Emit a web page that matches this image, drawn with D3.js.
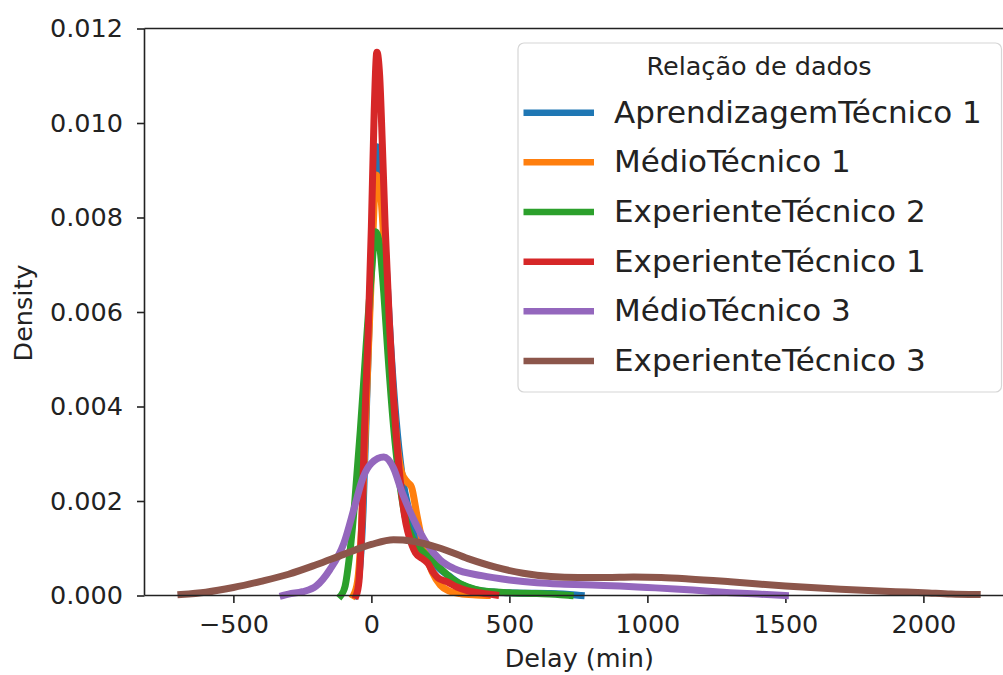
<!DOCTYPE html>
<html>
<head>
<meta charset="utf-8">
<script src="https://cdn.jsdelivr.net/npm/d3@7"></script>
<style>
  body { margin: 0; background: #fff; }
  text { font-family: "DejaVu Sans", sans-serif; fill: #222; }
</style>
</head>
<body>
<div id="canvas"></div>
<script>
// Curvas de densidade
const seriesNames = [
  "AprendizagemTécnico 1",
  "MédioTécnico 1",
  "ExperienteTécnico 2",
  "ExperienteTécnico 1",
  "MédioTécnico 3",
  "ExperienteTécnico 3"
];
const seriesColors = ["#1f77b4", "#ff7f0e", "#2ca02c", "#d62728", "#9467bd", "#8c564b"];

const delayBlue = [-60, -45, -30, -15, 0, 20, 35, 50, 70, 90, 110, 140, 170, 200, 240, 280, 320, 380, 450, 550, 650, 740, 760];
const densityBlue = [0, 0.0004, 0.0018, 0.0045, 0.0072, 0.0095, 0.0089, 0.0074, 0.0053, 0.0037, 0.0026, 0.0017, 0.0012, 0.0009, 0.0006, 0.00042, 0.00025, 0.00012, 0.00007, 0.00005, 0.00004, 0.00001, 0];

const delayOrange = [-65, -50, -35, -20, 0, 18, 35, 50, 70, 90, 110, 130, 145, 165, 190, 220, 250, 280, 320, 380, 420];
const densityOrange = [0, 0.0003, 0.0015, 0.0038, 0.0068, 0.0089, 0.0084, 0.0070, 0.0050, 0.0034, 0.0026, 0.0024, 0.0023, 0.0017, 0.0010, 0.0005, 0.00022, 0.0001, 0.00004, 0.00001, 0];

const delayGreen = [-110, -95, -80, -60, -40, -20, 0, 15, 30, 45, 60, 80, 100, 125, 150, 175, 200, 230, 260, 300, 350, 400, 500, 600, 700, 720];
const densityGreen = [0, 0.0002, 0.0008, 0.002, 0.0035, 0.0052, 0.0068, 0.0077, 0.0074, 0.0064, 0.0051, 0.0036, 0.0025, 0.0016, 0.0012, 0.0010, 0.00085, 0.0007, 0.00052, 0.00032, 0.00018, 0.0001, 0.00006, 0.00004, 0.00001, 0];

const delayRed = [-55, -45, -35, -25, -12, 0, 10, 20, 30, 40, 50, 65, 80, 100, 120, 148, 160, 185, 205, 225, 240, 275, 310, 350, 400, 450];
const densityRed = [0, 0.0003, 0.0015, 0.0035, 0.0055, 0.0078, 0.0102, 0.0115, 0.0110, 0.0095, 0.0078, 0.0058, 0.0042, 0.0027, 0.0017, 0.00105, 0.0009, 0.00078, 0.00068, 0.00048, 0.00038, 0.00029, 0.00018, 0.0001, 0.00005, 0.00001];

const delayPurple = [-320, -300, -250, -200, -150, -100, -60, -30, 0, 45, 80, 110, 150, 200, 250, 300, 400, 500, 600, 700, 800, 900, 1000, 1100, 1200, 1300, 1400, 1500];
const densityPurple = [0, 0.00003, 0.00008, 0.0002, 0.00055, 0.0011, 0.0019, 0.0025, 0.0028, 0.00293, 0.0027, 0.0022, 0.00165, 0.0011, 0.00075, 0.00057, 0.00042, 0.00033, 0.00027, 0.00024, 0.00022, 0.0002, 0.00017, 0.00014, 0.0001, 0.00006, 0.00003, 0];

const delayBrown = [-690, -600, -500, -400, -300, -200, -100, 0, 80, 150, 250, 350, 450, 550, 650, 750, 850, 950, 1050, 1150, 1300, 1500, 1700, 1900, 2000, 2100, 2195];
const densityBrown = [0.00002, 0.00007, 0.00017, 0.0003, 0.00045, 0.00065, 0.00087, 0.00108, 0.00118, 0.00115, 0.0010, 0.00078, 0.0006, 0.00047, 0.0004, 0.00038, 0.00038, 0.00039, 0.00038, 0.00035, 0.00029, 0.0002, 0.00013, 0.00008, 0.00006, 0.00003, 0.00002];

const xTicks = [-500, 0, 500, 1000, 1500, 2000];
const yTicks = [0, 0.002, 0.004, 0.006, 0.008, 0.010, 0.012];

const allDelays = [delayBlue, delayOrange, delayGreen, delayRed, delayPurple, delayBrown];
const allDensities = [densityBlue, densityOrange, densityGreen, densityRed, densityPurple, densityBrown];

const series = seriesNames.map((name, i) => ({
  name: name,
  color: seriesColors[i],
  points: allDelays[i].map((v, j) => ({ x: v, y: allDensities[i][j] }))
}));

const width = 1003;
const height = 675;
const plot = { left: 144.5, right: 1020, top: 28.5, bottom: 595.5 };

const svg = d3.select("#canvas")
  .append("svg")
  .attr("width", width)
  .attr("height", height);

const x = d3.scaleLinear().domain([-822, 2350]).range([plot.left, plot.right]);
const y = d3.scaleLinear().domain([0, 0.012]).range([plot.bottom, plot.top]);

// eixos
const xAxis = svg.append("g")
  .attr("transform", `translate(0,${plot.bottom})`)
  .call(d3.axisBottom(x).tickValues(xTicks).tickSize(7.5).tickPadding(12).tickFormat(d3.format("d")));
const yAxis = svg.append("g")
  .attr("transform", `translate(${plot.left},0)`)
  .call(d3.axisLeft(y).tickValues(yTicks).tickSize(7.5).tickPadding(14).tickFormat(d3.format(".3f")));

[xAxis, yAxis].forEach(g => {
  g.select(".domain").remove();
  g.selectAll(".tick line").attr("stroke", "#222").attr("stroke-width", 1.6);
  g.selectAll(".tick text").style("font-size", "25.5px").style("font-family", "DejaVu Sans").attr("fill", "#222");
});

// curvas
const line = d3.line()
  .x(d => x(d.x))
  .y(d => y(d.y))
  .curve(d3.curveMonotoneX);

const chart = svg.append("g");
chart.selectAll("path.kde")
  .data(series)
  .enter()
  .append("path")
  .attr("class", "kde")
  .attr("d", d => line(d.points))
  .attr("fill", "none")
  .attr("stroke", d => d.color)
  .attr("stroke-width", 7)
  .attr("stroke-linejoin", "round")
  .attr("stroke-linecap", "square");

// spines
const spines = svg.append("g").attr("stroke", "#222").attr("stroke-width", 1.6);
spines.append("line").attr("x1", plot.left).attr("x2", plot.left).attr("y1", plot.top).attr("y2", plot.bottom);
spines.append("line").attr("x1", plot.left).attr("x2", plot.right).attr("y1", plot.bottom).attr("y2", plot.bottom);
spines.append("line").attr("x1", plot.left).attr("x2", plot.right).attr("y1", plot.top).attr("y2", plot.top);
spines.append("line").attr("x1", plot.right).attr("x2", plot.right).attr("y1", plot.top).attr("y2", plot.bottom);

// rotulos
svg.append("text")
  .attr("x", (plot.left + plot.right) / 2 - 3)
  .attr("y", 666.5)
  .attr("text-anchor", "middle")
  .style("font-size", "25.5px")
  .text("Delay (min)");

svg.append("text")
  .attr("transform", `translate(32,${(plot.top + plot.bottom) / 2 + 1}) rotate(-90)`)
  .attr("text-anchor", "middle")
  .style("font-size", "25.5px")
  .text("Density");

// legenda
const legend = svg.append("g");
legend.append("rect")
  .attr("x", 518)
  .attr("y", 43)
  .attr("width", 483.5)
  .attr("height", 349)
  .attr("rx", 6)
  .attr("fill", "rgba(255,255,255,0.8)")
  .attr("stroke", "#d6d6d6")
  .attr("stroke-width", 1.2);

legend.append("text")
  .attr("x", 759)
  .attr("y", 75)
  .attr("text-anchor", "middle")
  .style("font-size", "25.5px")
  .text("Relação de dados");

const items = legend.selectAll(".legend")
  .data(series)
  .enter()
  .append("g")
  .attr("class", "legend")
  .attr("transform", (d, i) => `translate(0,${112.7 + i * 49.66})`);

items.append("line")
  .attr("x1", 523.5)
  .attr("x2", 594)
  .attr("y1", 0)
  .attr("y2", 0)
  .attr("stroke", d => d.color)
  .attr("stroke-width", 6.5);

items.append("text")
  .attr("x", 614)
  .attr("y", 10)
  .style("font-size", "31px")
  .text(d => d.name);
</script>
</body>
</html>
